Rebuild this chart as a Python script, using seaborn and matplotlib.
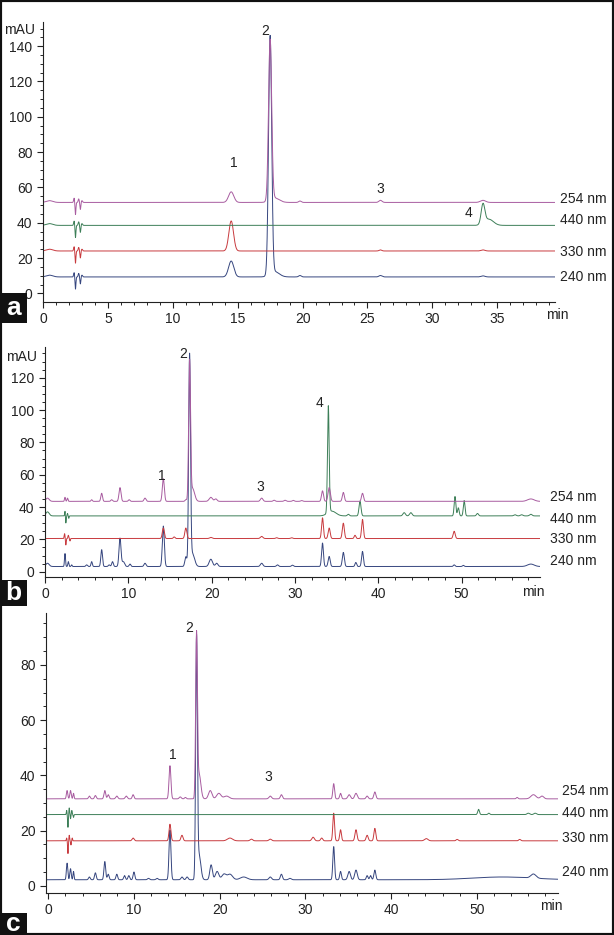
import numpy as np
import matplotlib
matplotlib.use("Agg")
import matplotlib.pyplot as plt
import seaborn as sns
from matplotlib.ticker import MultipleLocator
from matplotlib.patches import Rectangle

# Wellenlängen und Farben der Spuren
WAVES = ['254 nm', '440 nm', '330 nm', '240 nm']
COLORS = ['#a85ca0', '#3d7f58', '#c83a3e', '#36467f']

# Peaks: (Retentionszeit min, Höhe mAU, Breite min)
# --- Panel a ---
A_BASE = [51.5, 38.5, 24.0, 9.3]
A_INJ = [(0.5, 1.0, 0.25), (2.4, 2.5, 0.04), (2.5, -7.0, 0.035), (2.75, 2.0, 0.04),
         (2.88, -4.0, 0.035), (3.0, 1.0, 0.05)]
A_254 = [(14.5, 6.0, 0.2), (17.5, 91.0, 0.12), (17.85, 2.5, 0.35), (19.8, 0.8, 0.1),
         (26.0, 1.2, 0.12), (33.9, 1.2, 0.2)]
A_440 = [(33.9, 11.0, 0.14), (34.35, 3.5, 0.35)]
A_330 = [(14.5, 17.0, 0.18), (26.0, 0.6, 0.1), (33.9, 0.6, 0.15)]
A_240 = [(14.5, 9.0, 0.2), (17.5, 135.0, 0.12), (17.85, 3.0, 0.35), (19.8, 0.8, 0.1),
         (26.0, 0.8, 0.12), (33.9, 0.6, 0.15)]
A_LABEL_Y = [53.3, 41.5, 23.6, 9.4]
A_NUMS = [('1', 14.7, 73.6), ('2', 17.1, 148.8), ('3', 26.0, 59.1), ('4', 32.8, 45.3)]

# --- Panel b ---
B_BASE = [43.5, 34.5, 20.5, 3.2]
B_254 = [(0.3, 2.0, 0.2), (2.4, 2.5, 0.06), (2.7, 2.0, 0.06), (5.6, 1.0, 0.08), (6.8, 5.0, 0.1),
         (8.0, 1.0, 0.1), (9.0, 8.5, 0.12), (10.1, 1.0, 0.1), (12.0, 2.0, 0.12), (14.2, 14.0, 0.12),
         (16.9, 1.0, 0.1), (17.35, 85.0, 0.11), (17.7, 8.0, 0.25), (19.9, 2.5, 0.2), (20.5, 1.5, 0.15),
         (26.0, 2.0, 0.15), (27.5, 0.7, 0.12), (28.8, 0.7, 0.12), (29.8, 0.6, 0.12), (30.8, 0.5, 0.12),
         (33.3, 6.5, 0.12), (34.1, 8.5, 0.14), (35.8, 5.5, 0.12), (38.1, 5.0, 0.12), (58.3, 1.5, 0.4)]
B_440 = [(0.3, 2.5, 0.2), (2.4, 3.0, 0.04), (2.5, -4.5, 0.04), (2.7, 1.5, 0.04), (2.85, -1.5, 0.04),
         (34.0, 66.0, 0.1), (34.4, 3.0, 0.5), (36.4, 1.0, 0.12), (37.8, 9.0, 0.12), (43.1, 2.0, 0.15),
         (43.9, 2.0, 0.15), (49.2, 12.0, 0.1), (49.6, 5.0, 0.1), (50.3, 9.5, 0.1), (51.9, 1.5, 0.12),
         (56.4, 0.7, 0.15), (57.2, 0.7, 0.15), (58.3, 1.0, 0.15)]
B_330 = [(2.35, 3.0, 0.05), (2.5, -4.0, 0.04), (2.8, 2.0, 0.05), (3.0, -1.5, 0.04), (14.2, 6.5, 0.12),
         (15.5, 1.0, 0.1), (16.9, 6.5, 0.12), (19.9, 0.7, 0.15), (26.0, 1.3, 0.15), (27.8, 0.5, 0.12),
         (29.6, 0.5, 0.12), (33.3, 12.8, 0.11), (34.1, 6.5, 0.12), (35.8, 9.5, 0.12), (37.2, 2.0, 0.1),
         (38.1, 11.8, 0.11), (49.1, 4.5, 0.12)]
B_240 = [(0.3, 2.0, 0.2), (2.4, 8.0, 0.06), (2.8, 3.0, 0.06), (3.2, 1.0, 0.06), (5.0, 1.0, 0.1),
         (5.6, 3.0, 0.08), (6.8, 10.4, 0.1), (7.7, 1.0, 0.1), (8.1, 3.0, 0.1), (9.0, 17.5, 0.12),
         (9.4, 3.0, 0.15), (10.2, 1.5, 0.1), (12.0, 2.0, 0.12), (14.2, 25.0, 0.12), (16.9, 6.0, 0.12),
         (17.35, 129.0, 0.11), (17.7, 8.0, 0.25), (19.9, 4.5, 0.2), (20.6, 2.0, 0.15), (26.0, 2.0, 0.15),
         (27.9, 1.0, 0.12), (29.7, 0.8, 0.12), (33.3, 14.5, 0.11), (34.1, 6.2, 0.12), (35.8, 8.7, 0.12),
         (37.3, 2.5, 0.1), (38.1, 9.3, 0.11), (49.1, 1.0, 0.1), (50.2, 0.7, 0.1), (58.3, 1.5, 0.4)]
B_LABEL_Y = [45.9, 32.8, 20.3, 6.3]
B_NUMS = [('1', 14.0, 59.4), ('2', 16.6, 134.4), ('3', 25.8, 52.1), ('4', 32.9, 104.2)]

# --- Panel c ---
C_BASE = [31.5, 25.8, 16.3, 2.2]
C_254 = [(2.2, 3.0, 0.08), (2.6, 3.0, 0.08), (2.95, 2.0, 0.06), (4.8, 1.0, 0.1), (5.5, 1.2, 0.1),
         (6.6, 3.0, 0.1), (7.0, 1.5, 0.1), (8.0, 1.0, 0.12), (9.1, 1.0, 0.12), (9.9, 1.5, 0.1),
         (14.2, 12.0, 0.11), (15.4, 0.7, 0.12), (16.0, 0.5, 0.1), (17.3, 58.0, 0.1), (17.6, 9.0, 0.2),
         (18.9, 3.0, 0.2), (19.9, 2.0, 0.25), (20.8, 1.0, 0.3), (25.9, 1.0, 0.15), (27.2, 1.5, 0.12),
         (33.3, 5.5, 0.1), (34.1, 2.0, 0.1), (35.1, 1.5, 0.15), (35.9, 2.0, 0.15), (37.2, 1.0, 0.12),
         (38.1, 2.5, 0.12), (54.7, 0.5, 0.1), (56.6, 1.5, 0.3), (57.6, 1.0, 0.2)]
C_440 = [(2.15, 1.5, 0.04), (2.3, -4.6, 0.04), (2.45, 2.4, 0.04), (2.6, -1.5, 0.04), (2.75, 1.5, 0.04),
         (2.95, -1.0, 0.04), (50.2, 1.9, 0.1), (51.4, 0.5, 0.1), (56.0, 0.5, 0.15), (56.8, 0.5, 0.15)]
C_330 = [(2.15, 1.0, 0.04), (2.3, -4.6, 0.04), (2.45, 2.0, 0.04), (2.65, -1.5, 0.04), (2.8, 1.0, 0.04),
         (9.9, 1.0, 0.12), (14.2, 6.0, 0.11), (15.6, 2.0, 0.12), (21.2, 1.0, 0.3), (23.7, 0.6, 0.15),
         (25.9, 0.6, 0.15), (30.9, 1.3, 0.15), (31.9, 1.0, 0.12), (33.3, 10.0, 0.1), (34.1, 4.0, 0.1),
         (35.9, 4.0, 0.12), (37.2, 2.0, 0.12), (38.1, 4.5, 0.11), (44.1, 0.8, 0.2), (47.7, 0.5, 0.12),
         (55.0, 0.5, 0.12)]
C_240 = [(2.2, 6.0, 0.08), (2.6, 4.0, 0.08), (2.95, 3.0, 0.06), (4.8, 1.0, 0.1), (5.5, 2.5, 0.1),
         (6.6, 6.6, 0.1), (7.0, 2.0, 0.1), (8.0, 2.0, 0.1), (8.9, 1.5, 0.1), (9.4, 1.5, 0.1),
         (10.0, 2.8, 0.1), (11.7, 0.5, 0.12), (12.7, 0.5, 0.12), (14.2, 18.0, 0.11), (15.6, 1.0, 0.12),
         (16.2, 1.0, 0.12), (17.3, 86.0, 0.1), (17.6, 9.0, 0.2), (19.0, 5.4, 0.15), (19.7, 3.0, 0.2),
         (20.5, 2.0, 0.25), (21.2, 2.0, 0.3), (22.8, 1.0, 0.4), (25.9, 1.0, 0.15), (27.2, 2.0, 0.12),
         (28.2, 0.5, 0.15), (33.3, 12.0, 0.1), (34.1, 3.0, 0.1), (35.1, 3.0, 0.15), (35.9, 3.5, 0.15),
         (37.2, 1.5, 0.1), (37.6, 1.5, 0.1), (38.1, 3.5, 0.11), (53.0, 1.0, 3.5), (56.6, 1.5, 0.3)]
C_LABEL_Y = [34.4, 26.4, 17.3, 5.1]
C_NUMS = [('1', 14.5, 47.4), ('2', 16.5, 93.3), ('3', 25.7, 39.3)]


def chromatogram(t, base, peaks):
    '''Basislinie plus Gauss-Peaks aus der Peaktabelle'''
    y = np.full_like(t, base)
    for rt, h, w in peaks:
        y += h * np.exp(-0.5 * ((t - rt) / w) ** 2)
    return y


def draw_panel(ax, xlim, ylim, bases, traces, label_y, label_x, nums, xmaj, xmin):
    t = np.arange(xlim[0], xlim[1] + 0.005, 0.005)
    # Reihenfolge: 240 zuerst, 254 zuletzt
    for i in [3, 2, 1, 0]:
        y = chromatogram(t, bases[i], traces[i])
        sns.lineplot(x=t, y=y, ax=ax, color=COLORS[i], lw=0.7, estimator=None, sort=False)
        ax.text(label_x, label_y[i], WAVES[i], fontsize=10, va='center', ha='left', color='#222')
    for txt, x, y in nums:
        ax.text(x, y, txt, fontsize=10, ha='center', va='center', color='#222')
    ax.set_xlim(*xlim)
    ax.set_ylim(*ylim)
    ax.xaxis.set_major_locator(MultipleLocator(xmaj))
    ax.xaxis.set_minor_locator(MultipleLocator(xmin))
    ax.yaxis.set_major_locator(MultipleLocator(20))
    ax.yaxis.set_minor_locator(MultipleLocator(5))
    ax.tick_params(which='major', length=4, width=0.8, labelsize=10, colors='#222')
    ax.tick_params(which='minor', length=2.5, width=0.7)
    ax.set_xlabel('')
    ax.set_ylabel('')
    sns.despine(ax=ax)
    for s in ['left', 'bottom']:
        ax.spines[s].set_linewidth(0.8)
        ax.spines[s].set_color('#222')


sns.set_theme(style="ticks")
plt.rcParams['font.family'] = ['Liberation Sans', 'DejaVu Sans']

W, H = 614, 935
fig = plt.figure(figsize=(W / 100, H / 100), dpi=100)

ax_a = fig.add_axes([43 / W, 1 - 302 / H, 512 / W, 280 / H])
draw_panel(ax_a, (0, 39.45), (-4.9, 153.7), A_BASE,
           [A_INJ + A_254, A_INJ + A_440, A_INJ + A_330, A_INJ + A_240],
           A_LABEL_Y, 39.85, A_NUMS, 5, 1)

ax_b = fig.add_axes([45 / W, 1 - 577 / H, 495 / W, 230 / H])
draw_panel(ax_b, (0, 59.4), (-3.3, 139.0), B_BASE, [B_254, B_440, B_330, B_240],
           B_LABEL_Y, 60.6, B_NUMS, 10, 2)

ax_c = fig.add_axes([46 / W, 1 - 893 / H, 512.3 / W, 280 / H])
draw_panel(ax_c, (-0.26, 59.5), (-2.6, 98.8), C_BASE, [C_254, C_440, C_330, C_240],
           C_LABEL_Y, 59.9, C_NUMS, 10, 2)

# Achsenbeschriftungen mAU / min
fig.text(20 / W, 1 - 30 / H, 'mAU', fontsize=10, ha='center', va='center', color='#222')
fig.text(21.5 / W, 1 - 357 / H, 'mAU', fontsize=10, ha='center', va='center', color='#222')
for x, y in [(557, 315), (533, 592), (551, 906)]:
    fig.text(x / W, 1 - y / H, 'min', fontsize=10, ha='center', va='center', color='#222')

# Panel-Buchstaben in schwarzen Kästen
for letter, y0, y1 in [('a', 293, 323), ('b', 580, 606), ('c', 913, 935)]:
    fig.add_artist(Rectangle((0, 1 - y1 / H), 27 / W, (y1 - y0) / H, transform=fig.transFigure,
                             facecolor='#111', edgecolor='none'))
    fig.text(13.5 / W, 1 - (y0 + y1) / 2 / H, letter, color='white', fontsize=19,
             fontweight='bold', ha='center', va='center')

# Rahmen um die ganze Abbildung
fig.add_artist(Rectangle((0, 0), 1, 1, transform=fig.transFigure, fill=False,
                         edgecolor='#111', lw=3))

fig.savefig('out.png', dpi=100)
